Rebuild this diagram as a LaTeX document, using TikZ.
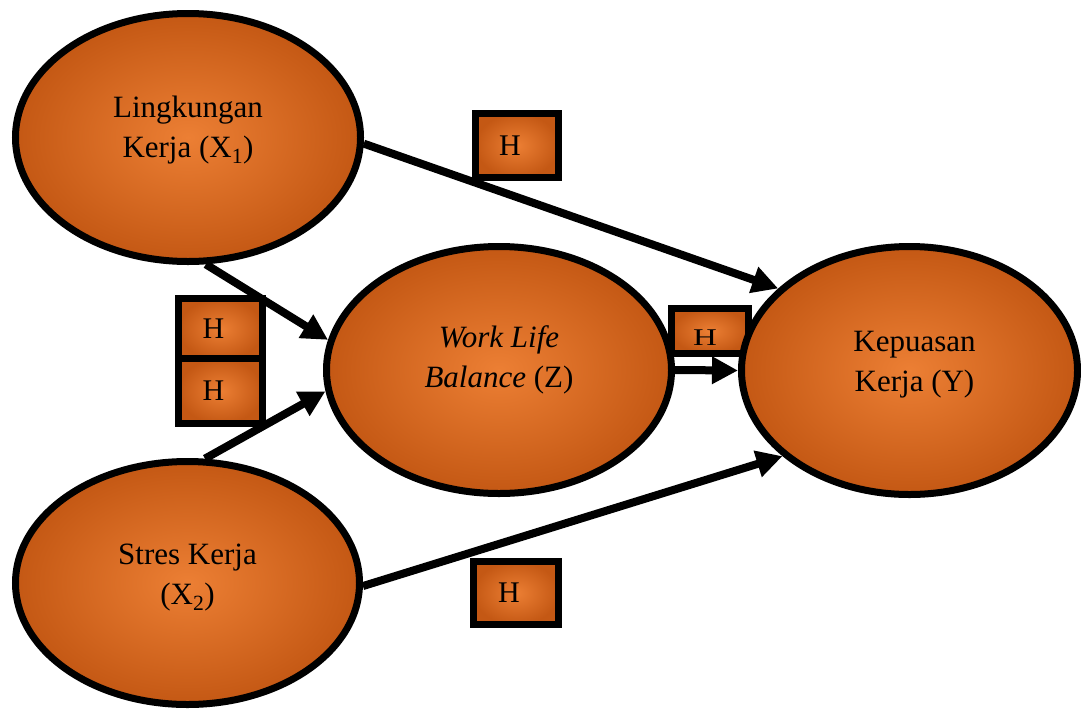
\documentclass[tikz,border=0pt]{standalone}
\usepackage{fontspec}
\setmainfont{Liberation Serif}
\usetikzlibrary{arrows.meta,shapes.geometric}
\pgfdeclarelayer{bg}
\pgfsetlayers{bg,main}
\definecolor{oin}{RGB}{236,127,52}
\definecolor{oout}{RGB}{196,88,20}
\tikzset{
  ell/.style={ellipse, draw=black, line width=7pt, inner sep=0pt,
    shading=radial, inner color=oin, outer color=oout},
  lbl/.style={align=center, font=\fontsize{31}{40}\selectfont, inner sep=0pt},
  hbox/.style={rectangle, draw=black, line width=7pt, inner sep=0pt,
    shading=radial, inner color=oin, outer color=oout,
    font=\fontsize{30}{36}\selectfont},
  arr/.style={line width=8pt, -{Triangle[length=26pt,width=26pt]}}
}
\begin{document}
\begin{tikzpicture}[x=1pt,y=-1pt]
\useasboundingbox (0,0) rectangle (1081,710);
% boxes (under the ellipses)
\node[hbox, minimum width=83pt, minimum height=64pt] (Htop) at (517,145.5) {H\hspace*{14pt}};
\node[hbox, minimum width=84pt, minimum height=61pt] (Hl1) at (220.5,329) {H\hspace*{14pt}};
\node[hbox, minimum width=84pt, minimum height=65pt] (Hl2) at (220.5,391) {H\hspace*{14pt}};
\node[hbox, minimum width=85pt, minimum height=63pt] (Hbot) at (516,593) {H\hspace*{14pt}};
\node[hbox, minimum width=77pt, minimum height=45pt] (Hmid) at (710,331)
  {\raisebox{-6.5pt}[15pt][0pt]{\scalebox{1.1}[0.8]{H}}\hspace*{10pt}};
% ellipses
\node[ell, minimum width=345pt, minimum height=248pt] (X1) at (188,137.5) {};
\node[ell, minimum width=345pt, minimum height=247pt] (Z) at (499,370) {};
\node[ell, minimum width=336pt, minimum height=248pt] (Y) at (909.5,370.5) {};
\node[ell, minimum width=344pt, minimum height=243pt] (X2) at (187.5,583) {};
% labels
\node[lbl] (X1t) at ([yshift=7pt]X1.center) {Lingkungan\\Kerja (X\textsubscript{1})};
\node[lbl] (Zt) at ([yshift=9.8pt]Z.center) {\textit{Work Life}\\\textit{Balance} (Z)};
\node[lbl] (Yt) at ([xshift=5pt,yshift=5.4pt]Y.center) {Kepuasan\\Kerja (Y)};
\node[lbl] (X2t) at ([yshift=5.5pt]X2.center) {Stres Kerja\\(X\textsubscript{2})};
% connectors
\begin{pgfonlayer}{bg}
\draw[arr] (X1.-2) -- (Y.148);
\draw[arr] (X1.-82) -- (Z.170);
\draw[arr] (X2.82) -- (Z.187);
\draw[arr] (X2.-1) -- (Y.214);
\draw[arr] (Z.east) -- (Y.west);
\end{pgfonlayer}
\end{tikzpicture}
\end{document}
